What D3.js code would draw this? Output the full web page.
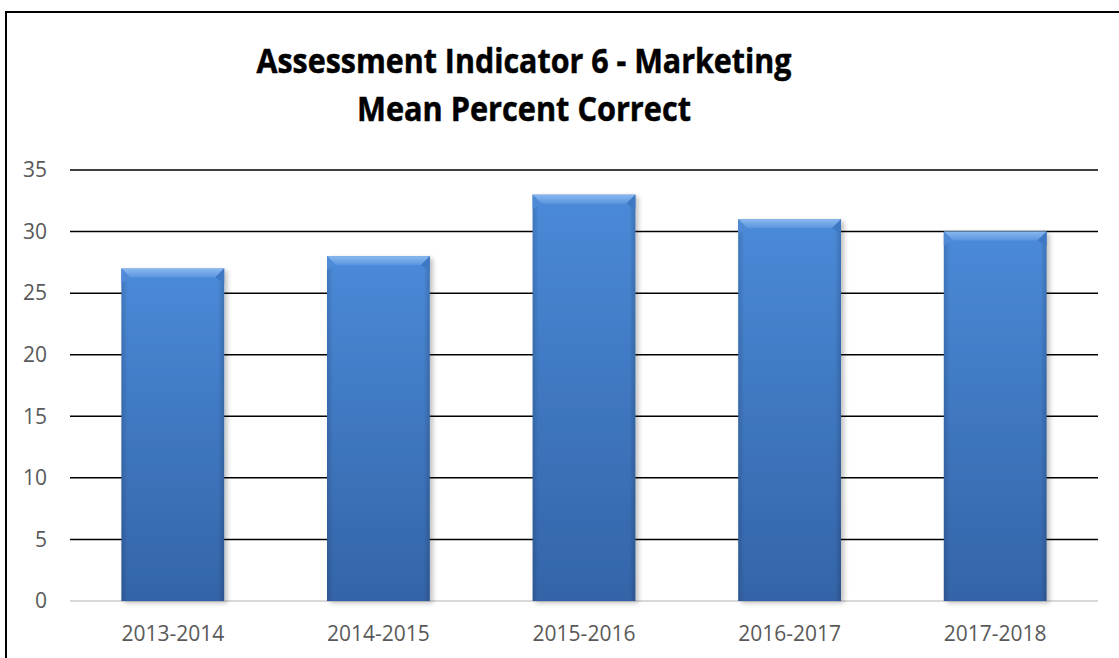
<!DOCTYPE html>
<html><head><meta charset="utf-8">
<script src="https://cdn.jsdelivr.net/npm/d3@7"></script>
<style>html,body{margin:0;padding:0;background:#fff;}svg{display:block;}</style>
</head><body>
<svg id="c" width="1119" height="658"></svg>
<script>
const categories = ["2013-2014","2014-2015","2015-2016","2016-2017","2017-2018"];
const values = [27, 28, 33, 31, 30];
const yTicks = [0,5,10,15,20,25,30,35];
const titleLines = ["Assessment Indicator 6 - Marketing","Mean Percent Correct"];

const svg = d3.select("#c");
const W = 1119, H = 658;
const m = {left:70, right:1098, top:170, bottom:601};

// chart border
svg.append("rect").attr("x",6).attr("y",12).attr("width",W+10).attr("height",H+10)
  .attr("fill","#fff").attr("stroke","#000").attr("stroke-width",2);

const defs = svg.append("defs");
const g1 = defs.append("linearGradient").attr("id","barg").attr("x1",0).attr("y1",0).attr("x2",0).attr("y2",1);
g1.append("stop").attr("offset","0%").attr("stop-color","#4a8ad8");
g1.append("stop").attr("offset","100%").attr("stop-color","#3464a8");
const gs = defs.append("linearGradient").attr("id","sideg").attr("x1",0).attr("y1",0).attr("x2",1).attr("y2",0);
gs.append("stop").attr("offset","0%").attr("stop-color","#000").attr("stop-opacity",0.14);
gs.append("stop").attr("offset","6%").attr("stop-color","#000").attr("stop-opacity",0);
gs.append("stop").attr("offset","94%").attr("stop-color","#000").attr("stop-opacity",0);
gs.append("stop").attr("offset","100%").attr("stop-color","#000").attr("stop-opacity",0.16);
const gt = defs.append("linearGradient").attr("id","topg").attr("x1",0).attr("y1",0).attr("x2",0).attr("y2",1);
gt.append("stop").attr("offset","0%").attr("stop-color","#8ab8ef");
gt.append("stop").attr("offset","100%").attr("stop-color","#5a95de");
const f = defs.append("filter").attr("id","sh").attr("x","-20%").attr("y","-20%").attr("width","140%").attr("height","140%");
f.append("feGaussianBlur").attr("in","SourceAlpha").attr("stdDeviation",2.5).attr("result","b");
f.append("feOffset").attr("in","b").attr("dx",3).attr("dy",2).attr("result","o");
f.append("feComponentTransfer").attr("in","o").attr("result","o2").append("feFuncA").attr("type","linear").attr("slope",0.25);
const mg = f.append("feMerge"); mg.append("feMergeNode").attr("in","o2"); mg.append("feMergeNode").attr("in","SourceGraphic");

const x = d3.scaleBand().domain(categories).range([m.left, m.right]).paddingInner(0.5).paddingOuter(0.25);
const y = d3.scaleLinear().domain([0,35]).range([m.bottom, m.top]);

// title
const font = "'Open Sans', 'Liberation Sans', sans-serif";
const titleLens = [535, 334];
const titleYs = [73, 121];
titleLines.forEach((t,i)=>{
  svg.append("text").attr("x",524).attr("y", titleYs[i])
    .attr("text-anchor","middle").attr("font-family",font).attr("font-weight","bold")
    .attr("font-size",34).attr("fill","#000").attr("stroke","#000").attr("stroke-width",0.5)
    .attr("textLength", titleLens[i])
    .attr("lengthAdjust","spacingAndGlyphs").text(t);
});

// gridlines
svg.append("g").selectAll("line").data(yTicks.filter(d=>d>0)).join("line")
  .attr("x1",m.left).attr("x2",m.right).attr("y1",d=>y(d)).attr("y2",d=>y(d))
  .attr("stroke","#000").attr("stroke-width",1.5);
svg.append("line").attr("x1",m.left).attr("x2",m.right).attr("y1",y(0)).attr("y2",y(0))
  .attr("stroke","#d9d9d9").attr("stroke-width",2);

// y axis labels
const yAxis = d3.axisLeft(y).tickValues(yTicks).tickSize(0).tickPadding(0);
const ya = svg.append("g").attr("transform","translate(47,0)").call(yAxis);
ya.select(".domain").remove();
ya.selectAll("text").attr("font-family",font).attr("font-size",21).attr("fill","#595959");

// x axis labels
const xAxis = d3.axisBottom(x).tickSize(0).tickPadding(0);
const xa = svg.append("g").attr("transform","translate(0,634)").call(xAxis);
xa.select(".domain").remove();
xa.selectAll("text").attr("font-family",font).attr("font-size",21).attr("fill","#595959").attr("dy","0.35em");

// bars
const bars = svg.append("g").selectAll("g").data(categories.map((c,i)=>({c,v:values[i]}))).join("g");
bars.append("rect").attr("x",d=>x(d.c)).attr("y",d=>y(d.v)).attr("width",x.bandwidth())
  .attr("height",d=>y(0)-y(d.v)).attr("fill","url(#barg)").attr("filter","url(#sh)");
bars.append("rect").attr("x",d=>x(d.c)).attr("y",d=>y(d.v)).attr("width",x.bandwidth())
  .attr("height",d=>y(0)-y(d.v)).attr("fill","url(#sideg)");
const bev = 9;
// top bevel
bars.append("path").attr("d",d=>{
  const x0=x(d.c), x1=x0+x.bandwidth(), t=y(d.v);
  return `M${x0},${t}L${x1},${t}L${x1-bev},${t+bev}L${x0+bev},${t+bev}Z`;
}).attr("fill","url(#topg)");
// side bevel corners
bars.append("path").attr("d",d=>{
  const x0=x(d.c), t=y(d.v);
  return `M${x0},${t}L${x0+bev},${t+bev}L${x0},${t+bev*1.6}Z`;
}).attr("fill","#4f8ad6");
bars.append("path").attr("d",d=>{
  const x1=x(d.c)+x.bandwidth(), t=y(d.v);
  return `M${x1},${t}L${x1-bev},${t+bev}L${x1},${t+bev*1.6}Z`;
}).attr("fill","#3f78c2");
</script>
</body></html>
